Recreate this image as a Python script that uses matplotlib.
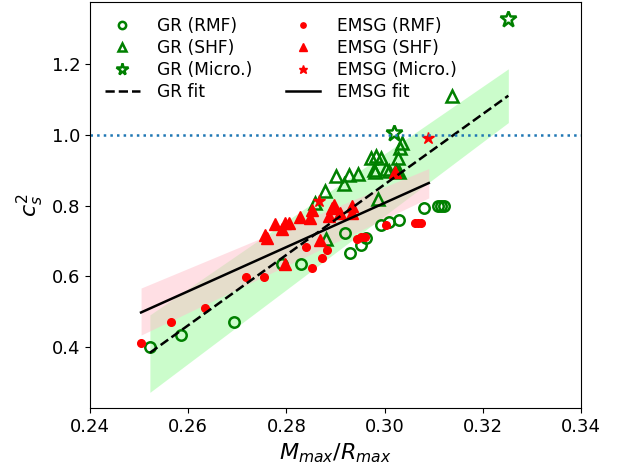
import matplotlib
matplotlib.use('Agg')
import matplotlib.pyplot as plt
import numpy as np

# GR points
gr_rmf_x = [0.2522, 0.2585, 0.2693, 0.2792, 0.2829, 0.2920, 0.2930, 0.2952, 0.2962, 0.2993,
            0.3009, 0.3030, 0.3080, 0.3108, 0.3114, 0.3120]
gr_rmf_y = [0.400, 0.434, 0.470, 0.636, 0.636, 0.724, 0.666, 0.688, 0.709, 0.746,
            0.755, 0.759, 0.792, 0.798, 0.798, 0.798]
gr_shf_x = [0.2859, 0.2878, 0.2881, 0.2901, 0.2918, 0.2928, 0.2945, 0.2972, 0.2982, 0.2992,
            0.2979, 0.2981, 0.3002, 0.3008, 0.3023, 0.3028, 0.3031, 0.3036, 0.2987, 0.3137, 0.3030]
gr_shf_y = [0.807, 0.841, 0.705, 0.883, 0.862, 0.886, 0.889, 0.936, 0.940, 0.936,
            0.902, 0.896, 0.905, 0.898, 0.900, 0.936, 0.962, 0.976, 0.819, 1.109, 0.895]
gr_micro_x = [0.3020, 0.3251]
gr_micro_y = [1.006, 1.328]

# EMSG points
emsg_rmf_x = [0.2504, 0.2564, 0.2634, 0.2717, 0.2754, 0.2840, 0.2853, 0.2873, 0.2883, 0.2944,
              0.2952, 0.2960, 0.3003, 0.3062, 0.3068, 0.3074]
emsg_rmf_y = [0.412, 0.470, 0.512, 0.598, 0.598, 0.683, 0.625, 0.653, 0.675, 0.707,
              0.712, 0.712, 0.745, 0.750, 0.750, 0.750]
emsg_shf_x = [0.2756, 0.2761, 0.2777, 0.2791, 0.2797, 0.2806, 0.2828, 0.2849, 0.2852, 0.2869,
              0.2797, 0.2887, 0.2892, 0.2896, 0.2909, 0.2934, 0.2934, 0.3021]
emsg_shf_y = [0.717, 0.708, 0.748, 0.735, 0.750, 0.751, 0.768, 0.766, 0.787, 0.703,
              0.636, 0.772, 0.793, 0.801, 0.779, 0.800, 0.780, 0.895]
emsg_micro_x = [0.2867, 0.3088]
emsg_micro_y = [0.812, 0.992]

# fits (end points) and bands
gr_fit_x = [0.2522, 0.3252]
gr_fit_y = [0.384, 1.111]
gr_band_lo = [0.272, 1.035]
gr_band_hi = [0.491, 1.187]
emsg_fit_x = [0.2504, 0.3090]
emsg_fit_y = [0.498, 0.864]
emsg_band_lo = [0.434, 0.822]
emsg_band_hi = [0.567, 0.905]

fig = plt.figure(figsize=(6.25, 4.72), dpi=100)
ax = fig.add_axes([0.144, 0.135, 0.7856, 0.8608])

ax.fill_between(gr_fit_x, gr_band_lo, gr_band_hi, color='palegreen', alpha=0.5, lw=0)
ax.fill_between(emsg_fit_x, emsg_band_lo, emsg_band_hi, color='pink', alpha=0.5, lw=0)

h1, = ax.plot(gr_rmf_x, gr_rmf_y, 'o', ls='none', mfc='none', mec='green', mew=1.8, ms=7.5, label='GR (RMF)')
h2, = ax.plot(gr_shf_x, gr_shf_y, '^', ls='none', mfc='none', mec='green', mew=1.8, ms=9, label='GR (SHF)')
h3, = ax.plot(gr_micro_x, gr_micro_y, '*', ls='none', mfc='none', mec='green', mew=1.8, ms=12, label='GR (Micro.)')
h5, = ax.plot(emsg_rmf_x, emsg_rmf_y, 'o', ls='none', color='red', ms=5.5, label='EMSG (RMF)')
h6, = ax.plot(emsg_shf_x, emsg_shf_y, '^', ls='none', color='red', ms=8, label='EMSG (SHF)')
h7, = ax.plot(emsg_micro_x, emsg_micro_y, '*', ls='none', color='red', ms=9, label='EMSG (Micro.)')

h4, = ax.plot(gr_fit_x, gr_fit_y, 'k--', lw=1.8, label='GR fit')
h8, = ax.plot(emsg_fit_x, emsg_fit_y, 'k-', lw=1.8, label='EMSG fit')

ax.axhline(1.0, color='C0', ls=':', lw=1.8)

ax.set_xlim(0.24, 0.34)
ax.set_ylim(0.227, 1.376)
ax.set_xticks([0.24, 0.26, 0.28, 0.30, 0.32, 0.34])
ax.set_yticks([0.4, 0.6, 0.8, 1.0, 1.2])
ax.tick_params(labelsize=13)
ax.set_xlabel('$M_{max}/R_{max}$', fontsize=16)
ax.set_ylabel('$c_s^2$', fontsize=16)

ax.legend(handles=[h1, h2, h3, h4, h5, h6, h7, h8], ncol=2, loc='upper left',
          frameon=False, fontsize=12.3, markerscale=0.7, labelspacing=0.22,
          handletextpad=1.0)

fig.savefig('out.png', dpi=100)
